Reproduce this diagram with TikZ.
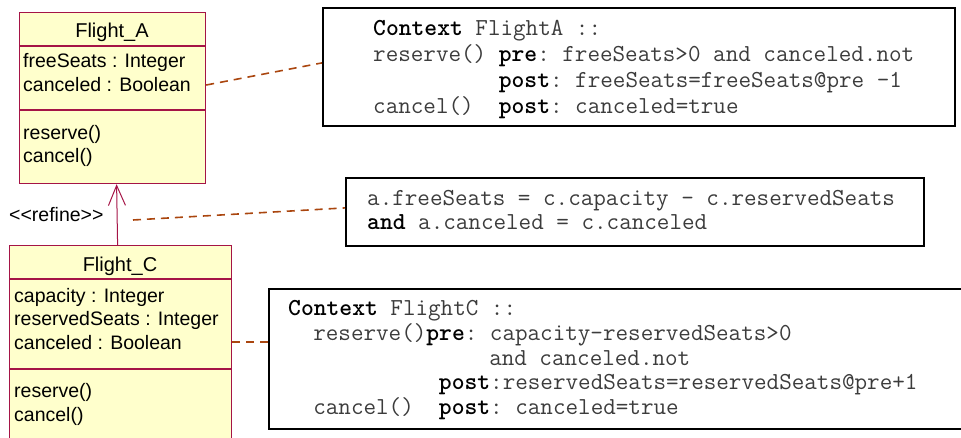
\documentclass[tikz,border=0pt]{standalone}
\usepackage{fontspec}
\setmainfont{Liberation Sans}
\usetikzlibrary{arrows.meta}

\definecolor{umlred}{RGB}{165,20,70}
\definecolor{umlyellow}{RGB}{255,255,204}
\definecolor{tracebrown}{RGB}{170,70,15}
\definecolor{oclgray}{RGB}{60,60,60}
\newcommand{\kw}[1]{\textcolor{black}{\textbf{#1}}}

\tikzset{
  classbox/.style={draw=umlred,fill=umlyellow,line width=1.2pt,inner sep=0pt,anchor=north west},
  classsep/.style={draw=umlred,line width=1.2pt},
  classname/.style={anchor=base,inner sep=0pt,font=\fontsize{20}{24}\selectfont},
  member/.style={anchor=base west,inner sep=0pt,font=\fontsize{19.5}{23}\selectfont},
  notebox/.style={draw=black,line width=1.8pt,inner sep=0pt,anchor=north west},
  ocl/.style={anchor=base west,inner sep=0pt,text=oclgray,font=\fontsize{24.4}{26}\ttfamily\frenchspacing},
  trace/.style={draw=tracebrown,line width=1.6pt,dash pattern=on 8pt off 6pt},
  refinearrow/.style={draw=umlred,line width=1pt,-{Straight Barb[length=20pt,width=17pt]}}
}

\begin{document}
\begin{tikzpicture}[x=1pt,y=-1pt]
  \clip (0,0) rectangle (961,438);
  % class Flight_A
  \node[classbox,minimum width=186pt,minimum height=171pt] (flightA) at (19,12) {};
  \draw[classsep] ([yshift=-34pt]flightA.north west) -- ([yshift=-34pt]flightA.north east);
  \draw[classsep] ([yshift=-98pt]flightA.north west) -- ([yshift=-98pt]flightA.north east);
  \node[classname] (nameA) at (112,38) {Flight\_A};
  \node[member] (freeSeatsA) at (23,68) {freeSeats : Integer};
  \node[member] (canceledA) at (23,92) {canceled : Boolean};
  \node[member] (reserveA) at (23,140) {reserve()};
  \node[member] (cancelA) at (23,163) {cancel()};
  % class Flight_C (runs off the bottom)
  \node[classbox,minimum width=222pt,minimum height=200pt] (flightC) at (9,245) {};
  \draw[classsep] ([yshift=-34pt]flightC.north west) -- ([yshift=-34pt]flightC.north east);
  \draw[classsep] ([yshift=-124pt]flightC.north west) -- ([yshift=-124pt]flightC.north east);
  \node[classname] (nameC) at (120,272) {Flight\_C};
  \node[member] (capacityC) at (14,302) {capacity : Integer};
  \node[member] (reservedC) at (14,325) {reservedSeats : Integer};
  \node[member] (canceledC) at (14,349) {canceled : Boolean};
  \node[member] (reserveC) at (14,397) {reserve()};
  \node[member] (cancelC) at (14,421) {cancel()};
  % refinement
  \draw[refinearrow] ([xshift=-3pt]flightC.north) -- ([xshift=4pt]flightA.south);
  \node[member] (refine) at (9,222) {<{}<refine>{}>};
  \coordinate (refinetail) at (133,220);
  % OCL notes
  \node[notebox,minimum width=632pt,minimum height=118pt] (noteA) at (322,7) {};
  \node[ocl] (noteA1) at (373,36) {\kw{Context} FlightA ::};
  \node[ocl] (noteA2) at (373,62) {reserve() \kw{pre}: freeSeats>0 and canceled.not};
  \node[ocl] (noteA3) at (373,88) {~~~~~~~~~~\kw{post}: freeSeats=freeSeats@pre -1};
  \node[ocl] (noteA4) at (373,114) {cancel()~~\kw{post}: canceled=true};

  \node[notebox,minimum width=578pt,minimum height=68pt] (noteB) at (345,177) {};
  \node[ocl] (noteB1) at (367,206) {a.freeSeats = c.capacity - c.reservedSeats};
  \node[ocl] (noteB2) at (367,230) {\kw{and} a.canceled = c.canceled};

  \node[notebox,minimum width=720pt,minimum height=140pt] (noteC) at (268,288) {};
  \node[ocl] (noteC1) at (288,316) {\kw{Context} FlightC ::};
  \node[ocl] (noteC2) at (288,340.5) {~~reserve()\kw{pre}: capacity-reservedSeats>0};
  \node[ocl] (noteC3) at (288,365) {~~~~~~~~~~~~~~~~and canceled.not};
  \node[ocl] (noteC4) at (288,389.5) {~~~~~~~~~~~~\kw{post}:reservedSeats=reservedSeats@pre+1};
  \node[ocl] (noteC5) at (288,414) {~~cancel()~~\kw{post}: canceled=true};
  % dashed links
  \draw[trace] (flightA.east |- canceledA.center) -- ([yshift=4pt]noteA.west);
  \draw[trace] (refinetail) -- ([yshift=4pt]noteB.west);
  \draw[trace] (flightC.east |- canceledC.center) -- (noteC.west |- canceledC.center);
\end{tikzpicture}
\end{document}
